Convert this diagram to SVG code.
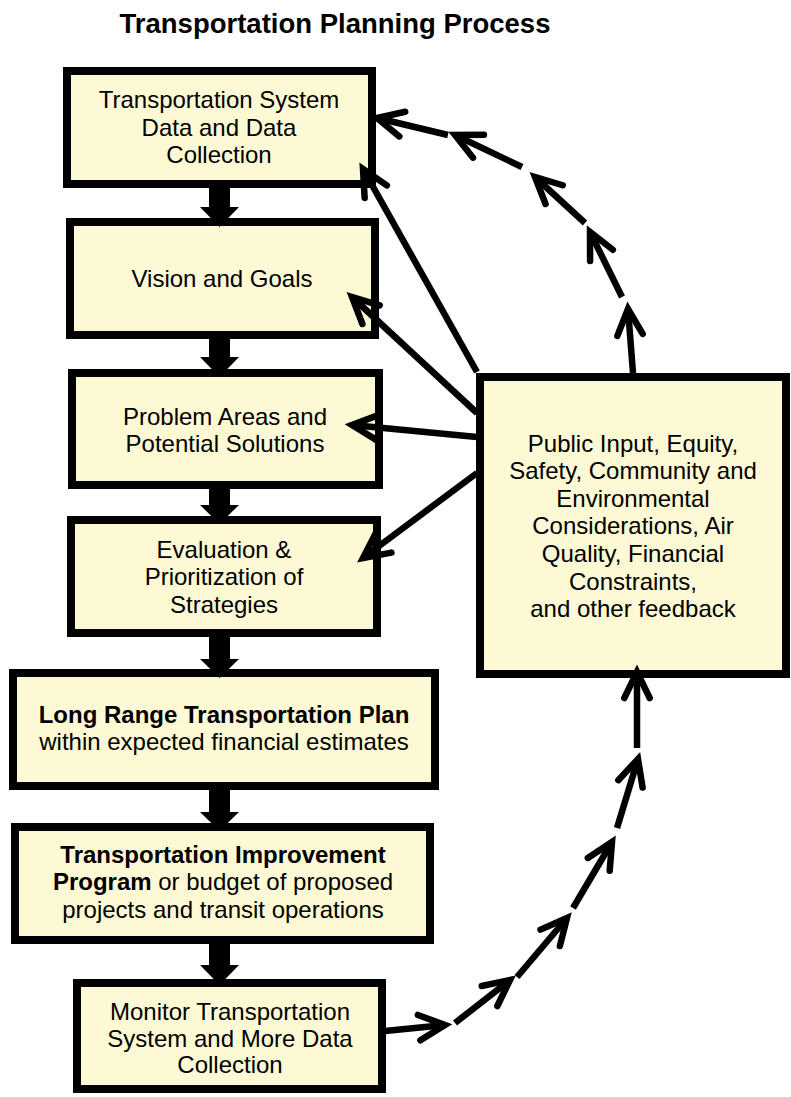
<svg xmlns="http://www.w3.org/2000/svg" width="791" height="1097" viewBox="0 0 791 1097">
<style>
.box{fill:#FDF9D4;stroke:#000;stroke-width:8}
.t{font-family:"Liberation Sans",Arial,sans-serif;font-size:24px;fill:#000;text-anchor:middle}
.b{font-weight:bold}
.title{font-family:"Liberation Sans",Arial,sans-serif;font-size:27.5px;font-weight:bold;fill:#000;text-anchor:middle}
.ln{stroke:#000;stroke-width:6.5;fill:none;marker-end:url(#ah)}
.blk{fill:#000}
</style>
<defs>
<marker id="ah" markerUnits="userSpaceOnUse" viewBox="-35 -20 40 40" markerWidth="40" markerHeight="40" refX="0" refY="0" orient="auto" overflow="visible">
<path d="M -26,-12.7 L 0,0 L -26,12.7" fill="none" stroke="#000" stroke-width="6.5" stroke-linecap="round" stroke-linejoin="miter"/>
</marker>
</defs>
<rect width="791" height="1097" fill="#fff"/>
<text class="title" x="335" y="33">Transportation Planning Process</text>

<g id="n1"><rect class="box" x="67" y="71" width="305" height="113"/>
<text class="t" x="219" y="108">Transportation System</text><text class="t" x="219" y="136">Data and Data</text><text class="t" x="219" y="163">Collection</text></g>
<g id="n2"><rect class="box" x="70" y="222" width="305" height="113"/>
<text class="t" x="222" y="287">Vision and Goals</text></g>
<g id="n3"><rect class="box" x="72" y="373" width="307" height="112"/>
<text class="t" x="225" y="425">Problem Areas and</text><text class="t" x="225" y="452">Potential Solutions</text></g>
<g id="n4"><rect class="box" x="71" y="520" width="306" height="113"/>
<text class="t" x="224" y="558">Evaluation &amp;</text><text class="t" x="224" y="585">Prioritization of</text><text class="t" x="224" y="613">Strategies</text></g>
<g id="n5"><rect class="box" x="13" y="673" width="422" height="113"/>
<text class="t b" x="224" y="723">Long Range Transportation Plan</text><text class="t" x="224" y="750">within expected financial estimates</text></g>
<g id="n6"><rect class="box" x="15" y="827" width="415" height="113"/>
<text class="t b" x="223" y="863">Transportation Improvement</text><text class="t" x="223" y="890"><tspan class="b">Program</tspan> or budget of proposed</text><text class="t" x="223" y="918">projects and transit operations</text></g>
<g id="n7"><rect class="box" x="77" y="983" width="305" height="106"/>
<text class="t" x="230" y="1020">Monitor Transportation</text><text class="t" x="230" y="1047">System and More Data</text><text class="t" x="230" y="1073">Collection</text></g>
<g id="n8"><rect class="box" x="480" y="377" width="306" height="297"/>
<text class="t" x="633" y="452">Public Input, Equity,</text><text class="t" x="633" y="479">Safety, Community and</text><text class="t" x="633" y="507">Environmental</text><text class="t" x="633" y="534">Considerations, Air</text><text class="t" x="633" y="562">Quality, Financial</text><text class="t" x="633" y="590">Constraints,</text><text class="t" x="633" y="617">and other feedback</text></g>

<g id="connectors">
<polygon class="blk" points="209,188 230,188 230,207 239,207 219.5,227 200,207 209,207"/>
<polygon class="blk" points="209,339 230,339 230,357 239,357 219.5,377 200,357 209,357"/>
<polygon class="blk" points="209,489 230,489 230,505 239,505 219.5,524 200,505 209,505"/>
<polygon class="blk" points="209,637 230,637 230,659 239,659 219.5,678 200,659 209,659"/>
<polygon class="blk" points="209,790 230,790 230,812 239,812 219.5,831 200,812 209,812"/>
<polygon class="blk" points="209,944 230,944 230,965 239,965 219.5,985 200,965 209,965"/>

<line class="ln" x1="477" y1="372" x2="363" y2="169"/>
<line class="ln" x1="477" y1="413" x2="352" y2="297"/>
<line class="ln" x1="477" y1="437" x2="352" y2="425"/>
<line class="ln" x1="477" y1="473" x2="363" y2="558"/>

<line class="ln" x1="633" y1="373" x2="628" y2="309"/>
<line class="ln" x1="622" y1="297" x2="590" y2="232"/>
<line class="ln" x1="585" y1="223" x2="535" y2="177"/>
<line class="ln" x1="522" y1="167" x2="455" y2="135"/>
<line class="ln" x1="448" y1="135" x2="377" y2="118"/>

<line class="ln" x1="385" y1="1031" x2="445" y2="1025"/>
<line class="ln" x1="455" y1="1023" x2="510" y2="980"/>
<line class="ln" x1="517" y1="977" x2="567" y2="918"/>
<line class="ln" x1="573" y1="908" x2="612" y2="842"/>
<line class="ln" x1="617" y1="828" x2="638" y2="759"/>
<line class="ln" x1="637" y1="748" x2="637" y2="672"/>
</g>
</svg>
